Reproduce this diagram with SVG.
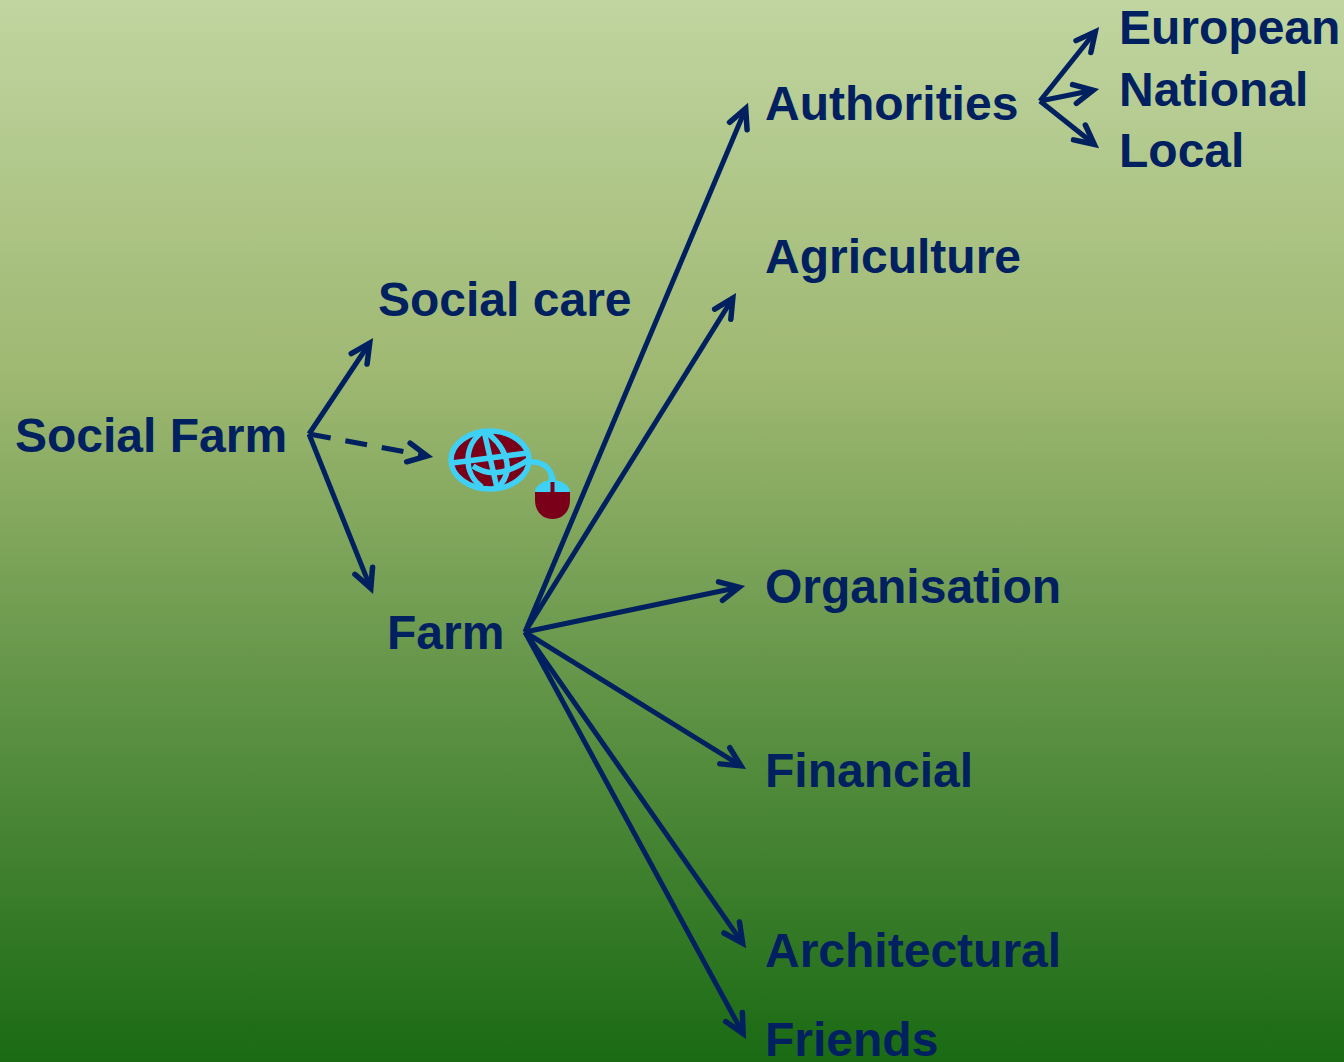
<svg xmlns="http://www.w3.org/2000/svg" width="1344" height="1062" viewBox="0 0 1344 1062">
<style>
.t{font-family:"Liberation Sans",Arial,sans-serif;font-weight:700;font-size:48px;fill:#002060}
.c{fill:none;stroke:#002060;stroke-width:5;marker-end:url(#a)}
.g{fill:none;stroke:#3fd0f5;stroke-width:5.500}
</style>
<defs>
<linearGradient id="bg" x1="0" y1="0" x2="0" y2="1">
<stop offset="0" stop-color="#c0d5a0"/><stop offset=".35" stop-color="#9fb872"/><stop offset="1" stop-color="#1a6a14"/>
</linearGradient>
<marker id="a" markerUnits="userSpaceOnUse" markerWidth="40" markerHeight="40" refX="24" refY="15" orient="auto" overflow="visible">
<path d="M5,5.500L24,15L5,24.500" fill="none" stroke="#002060" stroke-width="5.500" stroke-linecap="round" stroke-linejoin="miter" stroke-miterlimit="8"/>
</marker>
</defs>
<rect width="1344" height="1062" fill="url(#bg)"/>
<g id="connectors">
<path class="c" d="M309,434L369.700,343"/>
<path class="c" d="M309,434L427.100,455.900" stroke-dasharray="22 15"/>
<path class="c" d="M309,434L370.800,588.400"/>
<path class="c" d="M525,632L745.700,108.500"/>
<path class="c" d="M525,632L732.800,298.100"/>
<path class="c" d="M525,632L739.100,587.200"/>
<path class="c" d="M525,632L740.900,765.800"/>
<path class="c" d="M525,632L742.600,943.100"/>
<path class="c" d="M525,632L743.100,1033.700"/>
<path class="c" d="M1040,101L1095.300,31.700"/>
<path class="c" d="M1040,101L1093.100,90.200"/>
<path class="c" d="M1040,101L1094.300,144.300"/>
</g>
<g id="social-farm"><text class="t" x="15" y="452">Social Farm</text></g>
<g id="social-care"><text class="t" x="378" y="316">Social care</text></g>
<g id="farm"><text class="t" x="387" y="649">Farm</text></g>
<g id="authorities"><text class="t" x="765" y="120">Authorities</text></g>
<g id="agriculture"><text class="t" x="765" y="273">Agriculture</text></g>
<g id="organisation"><text class="t" x="765" y="603">Organisation</text></g>
<g id="financial"><text class="t" x="765" y="787">Financial</text></g>
<g id="architectural"><text class="t" x="765" y="967">Architectural</text></g>
<g id="friends"><text class="t" x="765" y="1056">Friends</text></g>
<g id="european"><text class="t" x="1119" y="44">European</text></g>
<g id="national"><text class="t" x="1119" y="106">National</text></g>
<g id="local"><text class="t" x="1119" y="167">Local</text></g>
<g id="web-icon">
<ellipse cx="490" cy="460" rx="39" ry="29" fill="#7a0019"/>
<ellipse class="g" cx="490" cy="460" rx="39" ry="29"/>
<path class="g" d="M484,431C463,444 463,474 482,487"/>
<path class="g" d="M484,431L497,488"/>
<path class="g" d="M484,431C503,442 518,470 497,488"/>
<path class="g" d="M452,463L528,453"/>
<path class="g" d="M473,466C490,478 510,472 528,460"/>
<path class="g" d="M527,462C540,461 552,466 552,480" stroke-width="4"/>
<rect x="548.500" y="476" width="7" height="6" fill="#3fd0f5"/>
<path d="M535,491L570,491L570,500C570,512 562,519 552.500,519C543,519 535,512 535,500Z" fill="#7a0019"/>
<path d="M535,492C535,486 543,480 552.500,480C562,480 570,486 570,492Z" fill="#3fd0f5"/>
<rect x="550.500" y="482" width="4" height="10" fill="#7a0019"/>
</g>
</svg>
